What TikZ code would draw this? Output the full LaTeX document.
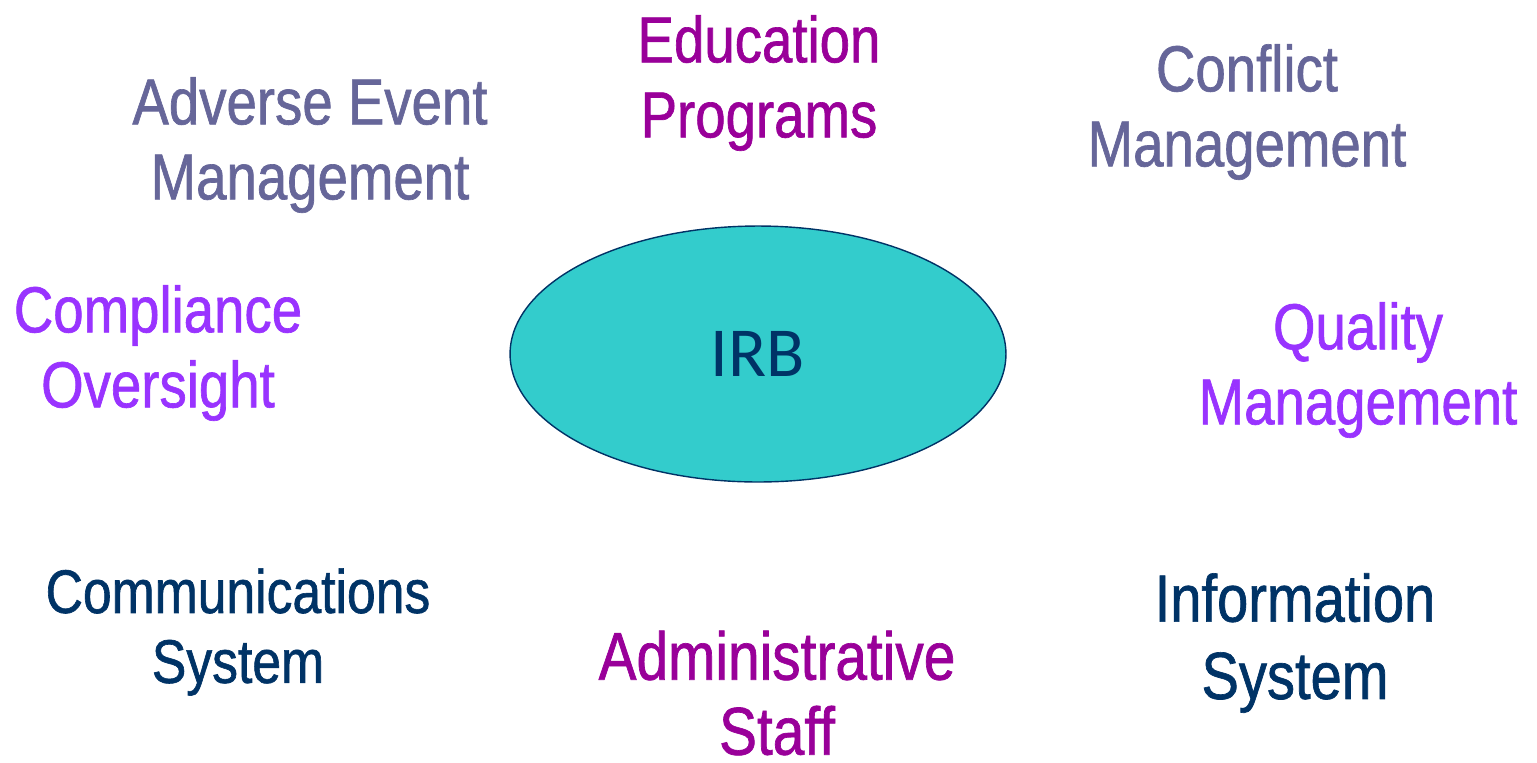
\documentclass[tikz,border=0pt]{standalone}
\usepackage{fontspec}
\setmainfont{Liberation Sans}[FakeStretch=0.84, FakeBold=1]
\newfontfamily\irbfont{Carlito}
\usetikzlibrary{shapes.geometric,positioning}
\definecolor{slate}{HTML}{666699}
\definecolor{plum}{HTML}{990099}
\definecolor{violet}{HTML}{9933FF}
\definecolor{navy}{HTML}{003366}
\definecolor{teal}{HTML}{33CCCC}
\tikzset{area/.style={align=center, inner sep=0pt, font=\fontsize{37}{42.7}\selectfont}, small area/.style={area, font=\fontsize{35}{39.8}\selectfont}, core/.style={ellipse, draw=navy, line width=0.8pt, fill=teal, minimum width=9.92cm, minimum height=5.12cm, inner sep=0pt, text=navy, font=\irbfont\fontsize{40}{48}\selectfont}}

\begin{document}
\begin{tikzpicture}[x=0.02cm, y=-0.02cm]
    \useasboundingbox (0,0) rectangle (1537,762);
    \node[core] (IRB) at (758,354) {IRB};
    \node[area, text=plum] (Edu) at (759,83) {Education\\Programs};
    \node[area, text=slate] (Adverse) at (310,145) {Adverse Event\\Management};
    \node[area, text=slate] (Conflict) at (1247,112) {Conflict\\Management};
    \node[area, text=violet] (Compliance) at (158,353) {Compliance\\Oversight};
    \node[area, text=violet] (Quality) at (1358,370) {Quality\\Management};
    \node[small area, text=navy] (Comm) at (238,632) {Communications\\System};
    \node[area, text=plum, font=\fontsize{38.5}{42.7}\selectfont] (Admin) at (777,693) {Administrative\\Staff};
    \node[area, text=navy, font=\fontsize{38}{44}\selectfont] (Info) at (1295,643) {Information\\System};
\end{tikzpicture}
\end{document}
